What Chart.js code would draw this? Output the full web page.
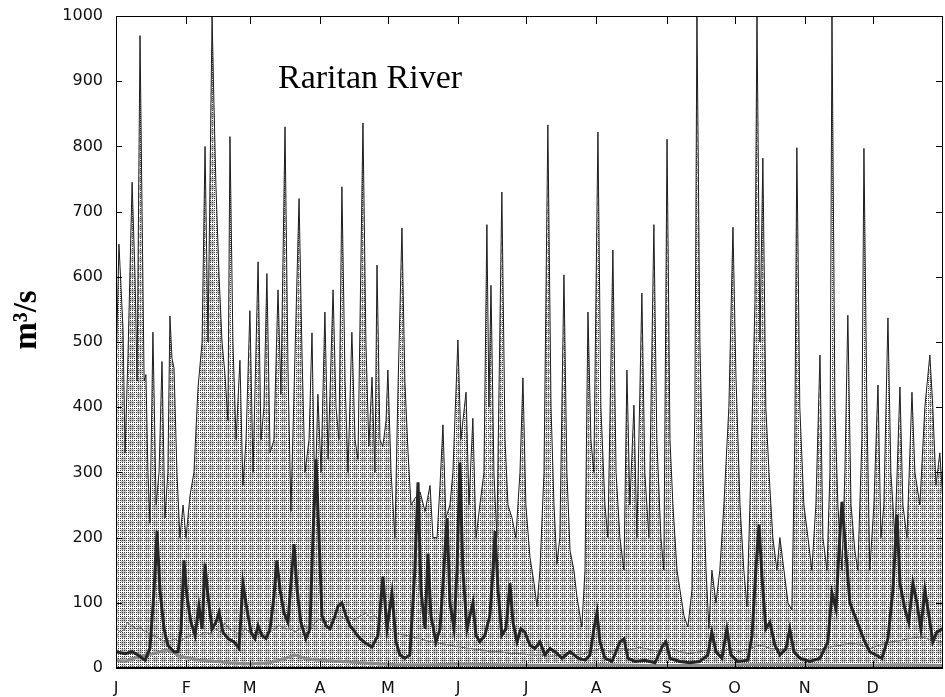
<!DOCTYPE html>
<html>
<head>
<meta charset="utf-8">
<script src="https://cdn.jsdelivr.net/npm/chart.js@4.4.1/dist/chart.umd.min.js"></script>
<style>
  html, body { margin: 0; padding: 0; background: #fff; }
  canvas { display: block; }
</style>
</head>
<body>
<canvas id="c" width="945" height="697"></canvas>
<script>
// month starts (day of year) and their axis letters
const monthStart = [0, 31, 59, 90, 120, 151, 181, 212, 243, 273, 304, 334];
const monthLabel = ['J', 'F', 'M', 'A', 'M', 'J', 'J', 'A', 'S', 'O', 'N', 'D'];
const flowTicks  = [0, 100, 200, 300, 400, 500, 600, 700, 800, 900, 1000];

// upper envelope of daily flow (m3/s)
const peakDay = [
  0, 1.3, 3.1, 4.0, 5.3, 7.1, 8.4, 9.3, 10.6, 11.5,
  12.4, 13.2, 14.1, 15.0, 16.3, 17.7, 19.0, 20.3, 21.6, 22.9,
  23.8, 24.7, 25.6, 26.9, 28.2, 29.6, 30.9, 32.7, 34.4, 36.2,
  38.0, 39.3, 40.6, 42.4, 43.2, 44.1, 45.5, 46.8, 48.1, 49.4,
  50.3, 51.6, 53.0, 54.7, 56.0, 57.4, 59.1, 60.5, 62.7, 64.0,
  65.3, 66.6, 68.0, 69.7, 71.5, 72.8, 74.6, 75.9, 77.2, 79.0,
  80.8, 82.1, 83.4, 85.2, 86.5, 87.8, 89.1, 90.5, 92.2, 93.6,
  95.8, 97.1, 98.4, 99.7, 101.1, 102.4, 104.1, 105.5, 106.8, 109.0,
  110.3, 111.6, 113.0, 114.3, 115.2, 116.5, 117.8, 119.2, 120.0, 121.4,
  123.1, 124.4, 126.2, 127.5, 128.9, 130.2, 131.9, 134.2, 136.4, 138.6,
  139.9, 141.7, 143.0, 144.3, 145.6, 147.4, 148.7, 150.9, 152.2, 154.5,
  155.8, 157.5, 158.9, 160.6, 162.4, 163.7, 164.6, 165.5, 166.8, 168.1,
  170.3, 171.7, 173.0, 174.8, 176.5, 178.3, 179.6, 180.9, 182.7, 184.5,
  185.8, 187.1, 188.9, 190.6, 192.0, 193.3, 194.6, 195.9, 197.7, 199.0,
  200.4, 202.1, 203.4, 204.8, 205.6, 207.0, 208.3, 209.6, 210.9, 212.7,
  214.0, 215.8, 217.1, 219.3, 220.7, 222.4, 224.2, 225.5, 226.8, 228.6,
  229.9, 232.1, 233.4, 235.2, 237.4, 238.7, 240.5, 241.8, 243.2, 244.5,
  245.8, 247.6, 248.9, 250.7, 252.4, 254.2, 255.5, 256.4, 257.7, 259.0,
  260.4, 261.7, 263.0, 264.8, 266.5, 268.3, 270.5, 272.3, 273.6, 275.4,
  277.1, 278.5, 280.2, 282.0, 282.9, 284.2, 285.5, 286.8, 288.2, 289.9,
  291.7, 293.0, 294.8, 296.6, 298.3, 299.6, 300.5, 301.8, 303.6, 305.4,
  307.1, 308.9, 310.7, 312.0, 313.8, 315.1, 316.0, 317.3, 318.6, 320.4,
  321.7, 323.0, 324.4, 326.1, 327.4, 329.2, 330.1, 331.4, 332.7, 334.5,
  336.3, 337.6, 338.9, 340.7, 342.0, 343.8, 346.0, 347.3, 349.1, 351.3,
  352.6, 354.8, 357.0, 359.2, 360.5, 361.9, 363.6, 364.9
];
const peakFlow = [
  450, 650, 520, 330, 480, 745, 600, 440, 970, 700,
  440, 450, 300, 222, 515, 250, 300, 470, 230, 300,
  540, 475, 460, 300, 200, 250, 200, 265, 300, 430,
  500, 800, 500, 1000, 870, 740, 600, 500, 450, 380,
  815, 500, 350, 472, 280, 350, 548, 300, 623, 350,
  400, 605, 330, 350, 580, 420, 830, 460, 240, 480,
  720, 480, 300, 350, 514, 250, 420, 300, 546, 320,
  580, 400, 350, 738, 440, 300, 515, 350, 320, 836,
  500, 340, 446, 300, 618, 350, 340, 380, 457, 300,
  200, 420, 675, 440, 330, 250, 260, 270, 240, 280,
  200, 200, 280, 373, 230, 250, 300, 503, 350, 423,
  250, 383, 200, 250, 300, 680, 400, 587, 300, 200,
  730, 350, 250, 230, 200, 300, 445, 250, 170, 130,
  94, 150, 300, 833, 400, 250, 160, 200, 603, 300,
  180, 150, 110, 80, 63, 150, 546, 350, 300, 822,
  400, 250, 200, 641, 300, 200, 150, 457, 250, 403,
  200, 575, 300, 200, 680, 350, 200, 150, 811, 350,
  250, 150, 120, 80, 63, 120, 400, 1000, 500, 300,
  150, 61, 150, 100, 150, 250, 400, 676, 450, 250,
  150, 94, 300, 560, 1000, 500, 782, 400, 300, 200,
  150, 200, 150, 100, 89, 350, 798, 400, 250, 200,
  150, 250, 480, 200, 150, 300, 1000, 400, 250, 150,
  300, 541, 250, 180, 150, 350, 797, 400, 150, 250,
  434, 200, 250, 537, 300, 200, 431, 250, 200, 423,
  300, 250, 400, 480, 400, 280, 330, 260
];

// median daily flow
const medianDay = [
  0, 2, 4, 5, 7, 9, 11, 12, 14, 16, 18, 19,
  22, 24, 26, 28, 30, 33, 35, 37, 39, 42,
  44, 46, 48, 50, 53, 55, 57, 59, 61, 64,
  66, 68, 70, 72, 75, 77, 79, 81, 83, 86,
  88, 90, 92, 94, 97, 99, 101, 103, 105, 108,
  110, 112, 114, 117, 119, 121, 123, 125, 128, 130,
  134, 139, 143, 147, 152, 156, 161, 165, 170, 174,
  178, 183, 187, 192, 196, 200, 205, 209, 214, 218,
  222, 227, 231, 236, 240, 245, 249, 253, 258, 262,
  267, 271, 275, 280, 284, 289, 293, 297, 302, 306,
  311, 315, 320, 324, 328, 333, 337, 342, 346, 350,
  355, 359, 365
];
const medianFlow = [
  60, 55, 60, 70, 65, 60, 62, 58, 55, 50, 48, 45,
  40, 42, 45, 40, 45, 50, 55, 50, 55, 52,
  60, 55, 70, 60, 55, 50, 60, 55, 50, 55,
  50, 55, 60, 65, 60, 60, 55, 60, 65, 60,
  70, 75, 70, 72, 78, 80, 75, 78, 74, 80,
  84, 78, 80, 72, 65, 60, 55, 52, 50, 48,
  45, 40, 38, 35, 32, 30, 28, 25, 25, 22,
  22, 20, 20, 18, 20, 22, 20, 25, 30, 25,
  30, 28, 32, 28, 25, 30, 25, 22, 25, 28,
  24, 30, 25, 30, 35, 30, 28, 30, 26, 30,
  28, 32, 35, 38, 36, 30, 35, 40, 42, 45,
  48, 44, 40
];

// a single wet year
const wetDay = [
  0, 4.0, 7.1, 9.7, 12.8, 15.0, 16.8, 18.1, 19.4, 21.2,
  22.9, 25.6, 27.4, 28.7, 30.0, 31.3, 33.1, 34.9, 36.6, 38.0,
  39.3, 40.6, 42.4, 44.1, 45.5, 47.2, 49.4, 52.1, 54.3, 56.0,
  57.8, 59.6, 61.3, 62.7, 64.4, 66.2, 68.0, 69.7, 71.0, 72.4,
  74.1, 75.9, 77.2, 78.6, 79.9, 81.6, 83.8, 85.6, 86.9, 88.3,
  89.6, 90.9, 92.7, 94.4, 96.2, 98.0, 99.7, 101.5, 103.3, 105.5,
  107.7, 110.3, 113.0, 115.6, 117.8, 119.6, 121.8, 123.6, 125.3, 127.5,
  129.7, 131.9, 133.3, 134.6, 136.4, 137.7, 139.0, 141.2, 143.0, 144.7,
  146.1, 147.4, 149.2, 150.5, 151.8, 153.1, 154.9, 156.2, 157.5, 158.9,
  160.6, 162.8, 165.0, 166.4, 167.3, 168.6, 170.3, 172.1, 173.9, 175.2,
  177.0, 178.7, 180.5, 182.7, 184.9, 187.1, 189.3, 191.5, 193.7, 196.8,
  200.4, 203.9, 207.0, 209.2, 210.9, 212.3, 213.6, 215.8, 218.9, 222.4,
  224.2, 225.9, 229.0, 233.4, 237.9, 241.4, 242.7, 244.5, 248.9, 253.3,
  257.7, 261.2, 263.0, 264.8, 267.4, 269.6, 271.4, 274.5, 278.9, 280.7,
  282.4, 283.8, 285.1, 286.8, 288.6, 290.8, 293.0, 295.7, 297.4, 299.2,
  301.8, 306.3, 310.7, 314.2, 316.0, 317.8, 319.1, 320.4, 322.1, 323.9,
  326.1, 328.3, 330.5, 332.7, 335.4, 338.0, 340.7, 342.9, 344.7, 346.0,
  348.2, 349.9, 351.7, 353.5, 355.2, 357.0, 358.8, 360.5, 362.3, 364.9
];
const wetFlow = [
  25, 22, 25, 20, 12, 30, 120, 210, 120, 60,
  35, 25, 25, 60, 165, 110, 70, 50, 95, 60,
  160, 110, 60, 70, 85, 55, 45, 40, 30, 130,
  90, 55, 45, 65, 50, 45, 60, 110, 165, 120,
  85, 70, 130, 190, 120, 70, 45, 60, 200, 320,
  200, 80, 65, 60, 75, 95, 100, 80, 65, 55,
  45, 38, 32, 50, 140, 60, 115, 40, 20, 15,
  20, 150, 285, 120, 60, 175, 80, 40, 60, 150,
  230, 100, 60, 150, 315, 150, 60, 80, 100, 50,
  40, 50, 80, 150, 210, 120, 50, 60, 130, 70,
  40, 60, 55, 35, 30, 40, 20, 30, 25, 15,
  25, 15, 12, 20, 60, 85, 40, 15, 10, 40,
  45, 15, 10, 12, 8, 35, 40, 15, 10, 8,
  10, 20, 55, 25, 15, 60, 20, 10, 12, 50,
  150, 220, 140, 60, 70, 35, 20, 30, 60, 25,
  15, 10, 15, 40, 115, 90, 180, 255, 180, 100,
  80, 60, 40, 25, 20, 15, 45, 120, 235, 130,
  90, 70, 130, 100, 60, 120, 80, 40, 55, 60
];

// a single dry year
const dryDay  = [0, 4, 8, 13, 17, 22, 25, 28, 33, 37, 44, 50, 59, 68, 75, 79, 83, 90, 99, 108,
                 117, 125, 139, 152, 170, 192, 214, 236, 258, 280, 302, 324, 346, 365];
const dryFlow = [12, 10, 15, 20, 22, 28, 25, 18, 15, 12, 10, 8, 6, 8, 15, 20, 15, 12, 10, 8,
                 6, 5, 5, 6, 5, 4, 5, 4, 4, 5, 5, 4, 5, 4];

function pairs(xs, ys) {
    return xs.map((x, i) => ({ x, y: ys[i] }));
}

const canvas = document.getElementById('c');
const ctx = canvas.getContext('2d');

// halftone fill under the envelope: dark dot grid with grey patches
function ditherFill() {
    const tile = document.createElement('canvas');
    tile.width = 8; tile.height = 8;
    const g = tile.getContext('2d');
    g.fillStyle = '#ffffff'; g.fillRect(0, 0, 8, 8);
    g.fillStyle = '#c4c4c4'; g.fillRect(1, 1, 5, 5);
    g.fillStyle = '#3a3a3a';
    for (let i = 0; i < 8; i += 2)
        for (let j = 0; j < 8; j += 2) g.fillRect(i, j, 1, 1);
    return ctx.createPattern(tile, 'repeat');
}

// plain white page behind everything
const paper = {
    id: 'paper',
    beforeDraw(chart) {
        const c = chart.ctx;
        c.save();
        c.fillStyle = '#fff';
        c.fillRect(0, 0, chart.width, chart.height);
        c.restore();
    }
};

// box, inward ticks and the two titles
const frame = {
    id: 'frame',
    afterDatasetsDraw(chart) {
        const { ctx, chartArea: a, scales: { x, y } } = chart;
        ctx.save();
        ctx.strokeStyle = '#000';
        ctx.lineWidth = 1;
        ctx.beginPath();
        ctx.moveTo(a.left + 0.5, a.bottom);
        ctx.lineTo(a.left + 0.5, a.top + 0.5);
        ctx.lineTo(a.right - 0.5, a.top + 0.5);
        ctx.lineTo(a.right - 0.5, a.bottom);
        flowTicks.forEach(v => {
            const py = Math.round(y.getPixelForValue(v)) + 0.5;
            ctx.moveTo(a.left, py); ctx.lineTo(a.left + 6, py);
            ctx.moveTo(a.right, py); ctx.lineTo(a.right - 7, py);
        });
        monthStart.forEach(v => {
            const px = Math.round(x.getPixelForValue(v)) + 0.5;
            ctx.moveTo(px, a.top); ctx.lineTo(px, a.top + 8);
            ctx.moveTo(px, a.bottom); ctx.lineTo(px, a.bottom - 7);
        });
        ctx.stroke();
        ctx.lineWidth = 2;
        ctx.beginPath();
        ctx.moveTo(a.left, a.bottom);
        ctx.lineTo(a.right, a.bottom);
        ctx.stroke();

        ctx.fillStyle = '#000';
        ctx.font = '34px "Liberation Serif", "Times New Roman", serif';
        ctx.textAlign = 'left';
        ctx.textBaseline = 'alphabetic';
        ctx.fillText('Raritan River', 278, 88);

        ctx.translate(36, 320);
        ctx.rotate(-Math.PI / 2);
        ctx.textAlign = 'center';
        ctx.font = 'bold 33px "Liberation Serif", "Times New Roman", serif';
        ctx.fillText('m³/s', 0, 0);
        ctx.restore();
    }
};

const tickFont = { family: '"DejaVu Sans", sans-serif', size: 16 };

new Chart(ctx, {
    type: 'line',
    data: {
        datasets: [
            {
                data: pairs(wetDay, wetFlow),
                borderColor: '#262626',
                borderWidth: 3,
                order: 1
            },
            {
                data: pairs(dryDay, dryFlow),
                borderColor: '#8a8a8a',
                borderWidth: 3,
                order: 2
            },
            {
                data: pairs(medianDay, medianFlow),
                borderColor: '#6a6a6a',
                borderWidth: 1,
                order: 3
            },
            {
                data: pairs(peakDay, peakFlow),
                borderColor: '#1e1e1e',
                borderWidth: 1,
                backgroundColor: ditherFill(),
                fill: 'origin',
                clip: 0,
                order: 4
            }
        ]
    },
    options: {
        responsive: false,
        animation: false,
        devicePixelRatio: 1,
        layout: { padding: { top: 16, right: 2, left: 0, bottom: 0 } },
        elements: {
            point: { radius: 0 },
            line: { tension: 0, borderJoinStyle: 'miter' }
        },
        plugins: {
            legend: { display: false },
            tooltip: { enabled: false }
        },
        scales: {
            x: {
                type: 'linear',
                min: 0,
                max: 365,
                grid: { display: false },
                border: { display: false },
                afterBuildTicks: s => { s.ticks = monthStart.map(v => ({ value: v })); },
                afterFit: s => { s.height = 29; },
                ticks: {
                    autoSkip: false,
                    maxRotation: 0,
                    padding: 3,
                    color: '#111',
                    font: tickFont,
                    callback: v => monthLabel[monthStart.indexOf(v)]
                }
            },
            y: {
                min: 0,
                max: 1000,
                grid: { display: false },
                border: { display: false },
                afterBuildTicks: s => { s.ticks = flowTicks.map(v => ({ value: v })); },
                afterFit: s => { s.width = 116; },
                ticks: {
                    padding: 5,
                    color: '#111',
                    font: tickFont,
                    callback: v => String(v)
                }
            }
        }
    },
    plugins: [paper, frame]
});
</script>
</body>
</html>
